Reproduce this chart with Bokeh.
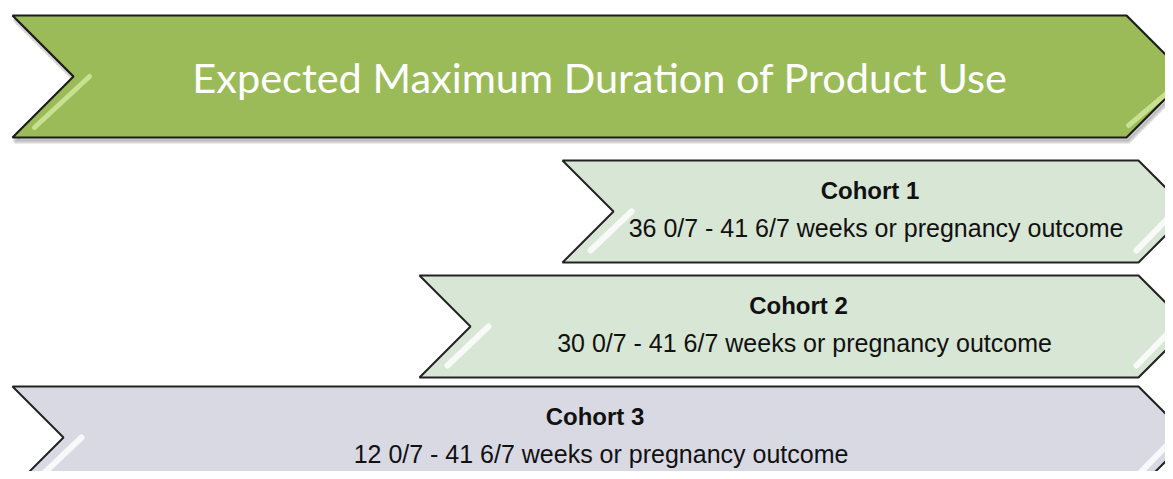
from bokeh.plotting import figure
from bokeh.models import Range1d
from bokeh.embed import file_html
from bokeh.resources import INLINE
from bokeh.core.properties import value

# ---- data ----
title_text = "Expected Maximum Duration of Product Use"
cohorts = ["Cohort 1", "Cohort 2", "Cohort 3"]
start_weeks = ["36 0/7", "30 0/7", "12 0/7"]
end_weeks = ["41 6/7", "41 6/7", "41 6/7"]
outcome_text = "weeks or pregnancy outcome"

# ---- layout (pixel coordinates of the 1173x479 page) ----
W, H = 1165, 471
p = figure(width=W, height=H, output_backend="svg", toolbar_location=None,
           x_range=Range1d(0, W), y_range=Range1d(H, 0), min_border=0)
p.axis.visible = False
p.grid.visible = False
p.outline_line_color = None
p.background_fill_color = "white"
p.border_fill_color = "white"


def chevron(xl, xr, yt, yb, depth):
    ym = (yt + yb) / 2
    xs = [xl, xr, xr + depth, xr, xl, xl + depth]
    ys = [yt, yt, ym, yb, yb, ym]
    return xs, ys


# banner
b_xl, b_xr, b_yt, b_yb = 12, 1126, 15, 137
bd = (b_yb - b_yt) / 2
bxs, bys = chevron(b_xl, b_xr, b_yt, b_yb, bd)
# shadow
p.patch([x + 2 for x in bxs], [y + 4 for y in bys], fill_color="#7f7f7f", fill_alpha=0.35,
        line_color="#9a9a9a", line_alpha=0.4, line_width=4)
p.patch(bxs, bys, fill_color="#9BBB59", line_color="#1c1c1c", line_width=2.2)
bym = (b_yt + b_yb) / 2
p.multi_line([[b_xl + bd + 16, b_xl + 22], [b_xr + bd - 2, b_xr + 2]],
             [[bym, b_yb - 10], [bym + 1, b_yb - 12]],
             line_color="#CFE79A", line_width=5, line_alpha=0.85, line_cap="round")
p.text([(b_xl + bd + b_xr) / 2], [bym], text=[title_text], text_font=value("Lato"),
       text_font_size="41.5px", text_color="white", text_align="center", text_baseline="middle")

# cohorts
lefts = [562, 419, 12]
tops = [160, 275, 386]
ch_h = 102
right = 1138
fills = ["#D8E6D5", "#D8E6D5", "#D9D9E4"]
for i, name in enumerate(cohorts):
    xl, yt = lefts[i], tops[i]
    yb = yt + ch_h
    d = ch_h / 2
    xs, ys = chevron(xl, right, yt, yb, d)
    p.patch(xs, ys, fill_color=fills[i], line_color="#222222", line_width=2)
    ym = (yt + yb) / 2
    p.multi_line([[xl + d + 18, xl + 28], [right + d - 15, right - 2]],
                 [[ym, yb - 12], [ym, yb - 12]],
                 line_color="white", line_width=6, line_alpha=0.8, line_cap="round")
    cx = (xl + d + right) / 2
    p.text([cx - 6], [yt + 30], text=[name], text_font=value("Liberation Sans"),
           text_font_style="bold", text_font_size="24px", text_color="#111111",
           text_align="center", text_baseline="middle")
    sub = f"{start_weeks[i]} - {end_weeks[i]} {outcome_text}"
    p.text([cx], [yt + 67.5], text=[sub], text_font=value("Liberation Sans"),
           text_font_size="25px", text_color="#111111",
           text_align="center", text_baseline="middle")

open("out.html", "w").write(file_html(p, INLINE))
